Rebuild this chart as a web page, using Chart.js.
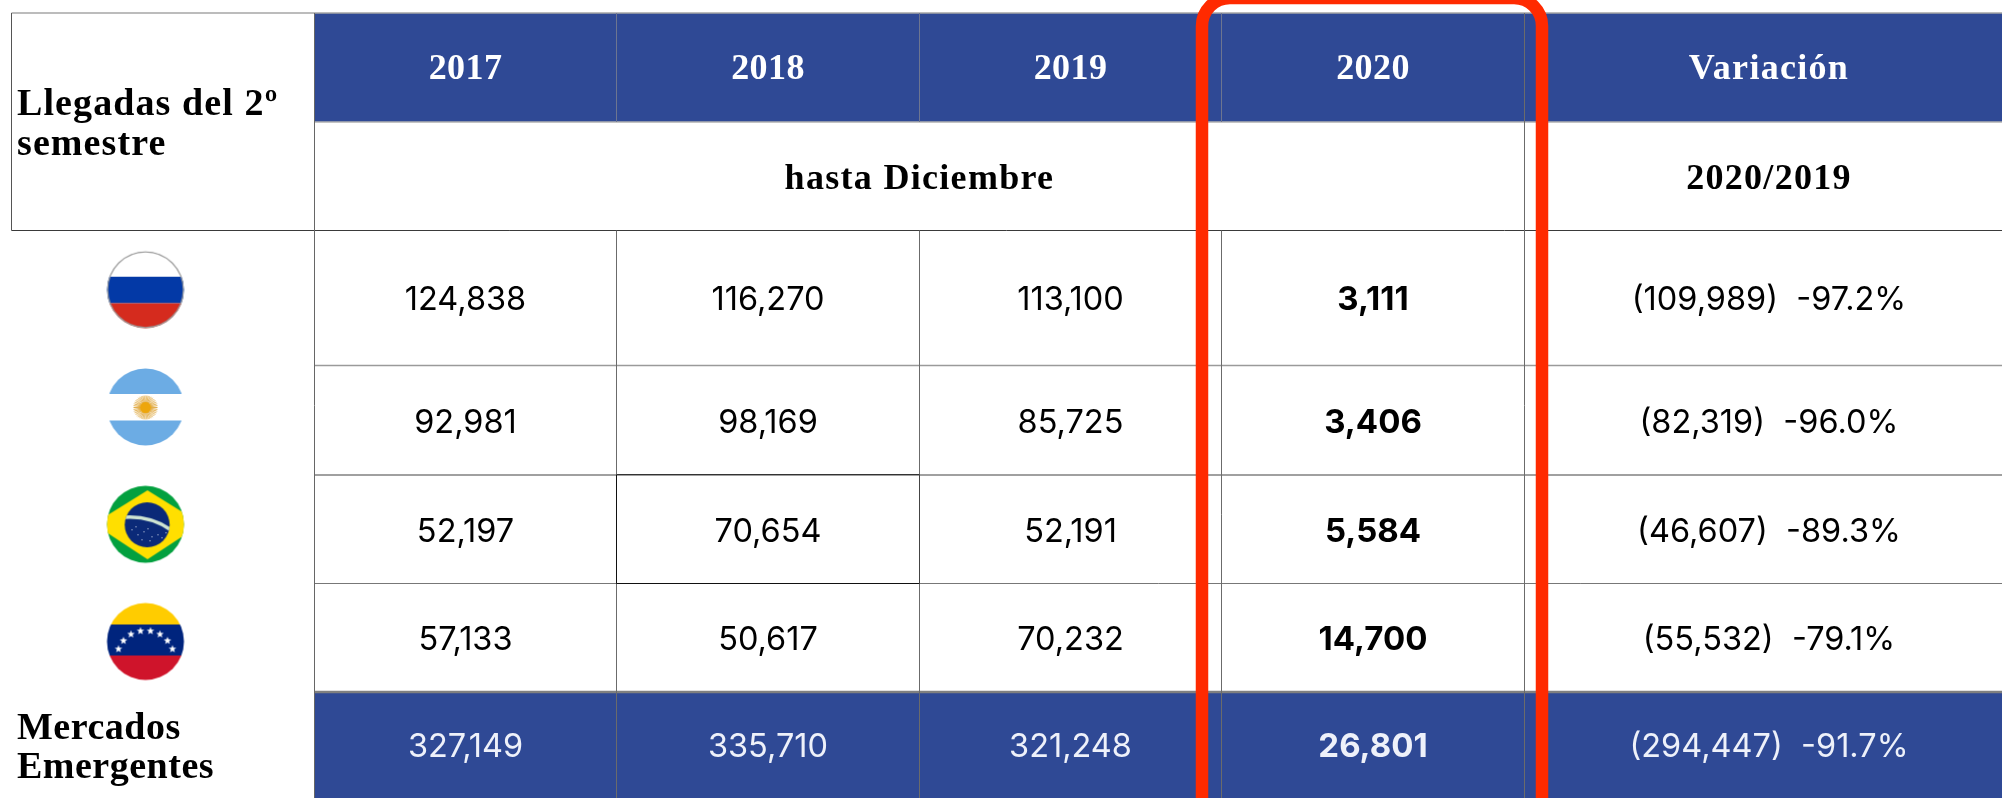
<!DOCTYPE html>
<html lang="es">
<head>
<meta charset="utf-8">
<title>Llegadas del 2º semestre</title>
<style>
  html, body { margin: 0; padding: 0; background: #fff; }
  #wrap { width: 2002px; height: 798px; overflow: hidden; }
</style>
<script src="https://cdn.jsdelivr.net/npm/chart.js@4/dist/chart.umd.js"></script>
</head>
<body>
<div id="wrap"><canvas id="chart" width="2002" height="798"></canvas></div>
<script>
// datos de la tabla
const years = ['2017', '2018', '2019', '2020'];
const countries = ['Rusia', 'Argentina', 'Brasil', 'Venezuela'];
const arrivals2017 = [124838, 92981, 52197, 57133];
const arrivals2018 = [116270, 98169, 70654, 50617];
const arrivals2019 = [113100, 85725, 52191, 70232];
const arrivals2020 = [3111, 3406, 5584, 14700];
const variationAbs = [-109989, -82319, -46607, -55532];
const variationPct = [-97.2, -96.0, -89.3, -79.1];
const totals = [327149, 335710, 321248, 26801];
const totalVariationAbs = -294447;
const totalVariationPct = -91.7;
const titleLines = ['Llegadas del 2º', 'semestre'];
const footerLines = ['Mercados', 'Emergentes'];
const variationTitle = 'Variación';
const periodLabel = 'hasta Diciembre';
const variationPeriod = '2020/2019';

// reticula: los ejes van en pixeles de la referencia
const colEdges = [11.5, 314.5, 616.5, 919.5, 1221.5, 1524.5, 2002];
const rowEdges = [13, 122, 230.5, 365.5, 475, 583.5, 692, 798];
const variationCenter = 1769;
const flagX = 145.5;
const flagY = [289.7, 407, 524.3, 641.5];
const textDrop = 2.5;

const BLUE = '#2f4995';
const RED = '#ff2a00';
const serif = '"Liberation Serif"';
const sans = 'Inter';

const mid = (a, b) => (a + b) / 2;
const num = n => n.toLocaleString('en-US');
const varText = (a, p) => `(${num(Math.abs(a))})  ${p.toFixed(1)}%`;

function flagCanvas(paint) {
  const c = document.createElement('canvas');
  c.width = 80; c.height = 80;
  const g = c.getContext('2d');
  g.beginPath(); g.arc(40, 40, 38.5, 0, Math.PI * 2); g.clip();
  paint(g);
  return c;
}
function bands(g, list) {
  list.forEach(([y0, y1, col]) => { g.fillStyle = col; g.fillRect(0, y0, 80, y1 - y0); });
}
function star(g, x, y, r) {
  g.beginPath();
  for (let i = 0; i < 10; i++) {
    const a = -Math.PI / 2 + i * Math.PI / 5, q = i % 2 ? r * 0.42 : r;
    g.lineTo(x + q * Math.cos(a), y + q * Math.sin(a));
  }
  g.closePath(); g.fill();
}
const flags = [
  flagCanvas(g => {
    bands(g, [[0, 27, '#fff'], [27, 53.5, '#0339a6'], [53.5, 80, '#d52b1e']]);
    g.strokeStyle = '#999'; g.lineWidth = 1.5;
    g.beginPath(); g.arc(40, 40, 38, 0, Math.PI * 2); g.stroke();
  }),
  flagCanvas(g => {
    bands(g, [[0, 27, '#6cace4'], [27, 53.5, '#fff'], [53.5, 80, '#6cace4']]);
    g.strokeStyle = '#dfa63a'; g.lineWidth = 0.9;
    for (let i = 0; i < 40; i++) {
      const a = i * Math.PI / 20;
      g.beginPath(); g.moveTo(40, 40.5);
      g.lineTo(40 + 12 * Math.cos(a), 40.5 + 12 * Math.sin(a)); g.stroke();
    }
    g.fillStyle = '#eda60c';
    g.beginPath(); g.arc(40, 40.5, 5.5, 0, Math.PI * 2); g.fill();
  }),
  flagCanvas(g => {
    bands(g, [[0, 80, '#03a03f']]);
    g.fillStyle = '#ffdf00';
    g.beginPath(); g.moveTo(42, 6); g.lineTo(96, 39.5); g.lineTo(42, 75); g.lineTo(-12, 39.5); g.closePath(); g.fill();
    g.fillStyle = '#0b2a78';
    g.beginPath(); g.arc(41.7, 40.5, 22.5, 0, Math.PI * 2); g.fill();
    g.save();
    g.beginPath(); g.arc(41.7, 40.5, 22.5, 0, Math.PI * 2); g.clip();
    g.strokeStyle = '#cfe5d2'; g.lineWidth = 3.5;
    g.beginPath(); g.moveTo(18, 33); g.quadraticCurveTo(45, 31, 66, 46); g.stroke();
    g.fillStyle = '#dfe6f5';
    [[26, 45], [32, 50], [38, 47], [42, 44], [46, 52], [52, 50], [56, 53], [44, 56], [36, 55], [60, 48], [30, 42]]
      .forEach(([x, y]) => g.fillRect(x, y, 1, 1));
    g.restore();
  }),
  flagCanvas(g => {
    bands(g, [[0, 23, '#ffcc00'], [23, 54, '#00247d'], [54, 80, '#cf142b']]);
    g.fillStyle = '#fff';
    [[13, 47.5], [18, 39.2], [25.5, 32.8], [35, 29.5], [45, 29.5], [54.5, 32.8], [62, 39.2], [67, 47.5]]
      .forEach(([x, y]) => star(g, x, y, 4));
  })
];

// relleno, lineas y recuadro, todo pasando por las escalas
const tablePlugin = {
  id: 'table',
  beforeDatasetsDraw(chart) {
    const { ctx, scales: { x, y } } = chart;
    const px = v => x.getPixelForValue(v), py = v => y.getPixelForValue(v);
    const right = colEdges[6];
    const rule = (x0, y0, x1, y1, col, w) => {
      ctx.strokeStyle = col; ctx.lineWidth = w;
      ctx.beginPath(); ctx.moveTo(px(x0), py(y0)); ctx.lineTo(px(x1), py(y1)); ctx.stroke();
    };
    ctx.save();
    ctx.fillStyle = BLUE;
    ctx.fillRect(px(colEdges[1]), py(rowEdges[0]), px(right) - px(colEdges[1]), py(rowEdges[1]) - py(rowEdges[0]));
    ctx.fillRect(px(colEdges[1]), py(rowEdges[6]), px(right) - px(colEdges[1]), py(rowEdges[7]) - py(rowEdges[6]));

    // horizontales
    rule(colEdges[0], rowEdges[0], right, rowEdges[0], '#a6a6a6', 1.5);
    rule(colEdges[1], rowEdges[1], right, rowEdges[1], '#b0b0b0', 1.5);
    rule(colEdges[0], rowEdges[2], right, rowEdges[2], '#3a3a3a', 1);
    rule(colEdges[1], rowEdges[3], right, rowEdges[3], '#9a9a9a', 1.5);
    rule(colEdges[1], rowEdges[4], right, rowEdges[4], '#a0a0a0', 2);
    rule(colEdges[1], rowEdges[5], right, rowEdges[5], '#777', 1);
    rule(colEdges[1], rowEdges[6], right, rowEdges[6], '#808080', 2.4);

    // verticales
    rule(colEdges[0], rowEdges[0], colEdges[0], rowEdges[2], '#555', 1);
    rule(colEdges[1], rowEdges[0], colEdges[1], rowEdges[7], '#666', 1);
    [2, 3, 4].forEach(i => {
      rule(colEdges[i], rowEdges[0], colEdges[i], rowEdges[1], '#6d7590', 1);
      rule(colEdges[i], rowEdges[2], colEdges[i], rowEdges[7], '#6b6b6b', 1);
    });
    rule(colEdges[5], rowEdges[0], colEdges[5], rowEdges[7], '#6b6b6b', 1);

    // celda Brasil 2018 con borde negro
    rule(colEdges[2], rowEdges[4] - 0.5, colEdges[3], rowEdges[4] - 0.5, '#333', 1);
    rule(colEdges[2], rowEdges[5], colEdges[3], rowEdges[5], '#111', 1);
    rule(colEdges[2], rowEdges[4], colEdges[2], rowEdges[5], '#111', 1);
    rule(colEdges[3], rowEdges[4], colEdges[3], rowEdges[5], '#444', 1);
    ctx.restore();
  },
  afterDatasetsDraw(chart) {
    const { ctx, scales: { x, y } } = chart;
    const px = v => x.getPixelForValue(v), py = v => y.getPixelForValue(v);
    const label = (s, xv, yv, font, col, align) => {
      ctx.font = font; ctx.fillStyle = col;
      ctx.textAlign = align || 'center';
      ctx.fillText(s, px(xv), py(yv));
    };
    ctx.save();
    ctx.textBaseline = 'middle';

    // valores: cada punto del dataset lleva su texto
    chart.data.datasets.forEach((ds, i) => {
      if (!ds.cellFont) return;
      chart.getDatasetMeta(i).data.forEach((el, j) => {
        ctx.font = ds.cellFont;
        ctx.fillStyle = ds.data[j].color;
        ctx.textAlign = 'center';
        ctx.fillText(ds.data[j].text, el.x, el.y + textDrop);
      });
    });

    // cabeceras
    const headFont = `bold 36px ${serif}`;
    const headY = mid(rowEdges[0], rowEdges[1]) + textDrop, subY = mid(rowEdges[1], rowEdges[2]) + 3.5;
    ctx.letterSpacing = '0.4px';
    years.forEach((yr, i) => label(yr, mid(colEdges[i + 1], colEdges[i + 2]), headY, headFont, '#fff'));
    ctx.letterSpacing = '1.3px';
    label(variationTitle, variationCenter, headY, headFont, '#fff');
    label(periodLabel, mid(colEdges[1], colEdges[5]), subY, headFont, '#000');
    label(variationPeriod, variationCenter, subY, headFont, '#000');

    ctx.textBaseline = 'alphabetic';
    const sideFont = `bold 38px ${serif}`;
    ctx.letterSpacing = '1.1px';
    titleLines.forEach((s, i) => label(s, 17, 115 + i * 40, sideFont, '#000', 'left'));
    ctx.letterSpacing = '0.5px';
    footerLines.forEach((s, i) => label(s, 17, 739 + i * 39, sideFont, '#000', 'left'));
    ctx.letterSpacing = '0px';
    ctx.restore();
  },
  afterDraw(chart) {
    const { ctx, scales: { x, y } } = chart;
    const l = x.getPixelForValue(1202), r = x.getPixelForValue(1542);
    ctx.save();
    ctx.strokeStyle = RED; ctx.lineWidth = 12.5;
    ctx.beginPath();
    ctx.roundRect(l, y.getPixelForValue(-2), r - l, y.getPixelForValue(860) - y.getPixelForValue(-2), 28);
    ctx.stroke();
    ctx.restore();
  }
};

const rowsY = [0, 1, 2, 3].map(i => mid(rowEdges[i + 2], rowEdges[i + 3]));
const totalY = mid(rowEdges[6], rowEdges[7]);

function cellSet(xv, texts, color, font) {
  return {
    type: 'scatter',
    cellFont: font,
    pointRadius: 0,
    data: texts.map((text, i) => ({ x: xv, y: rowsY[i], text, color }))
  };
}
function totalSet(xv, text, font) {
  return {
    type: 'scatter',
    cellFont: font,
    pointRadius: 0,
    data: [{ x: xv, y: totalY, text, color: '#eef1fa' }]
  };
}

const plainFont = `400 32.5px ${sans}`;
const boldFont = `700 33px ${sans}`;
const yearCols = [arrivals2017, arrivals2018, arrivals2019, arrivals2020];

const datasets = [
  {
    type: 'scatter',
    label: 'flags',
    data: countries.map((c, i) => ({ x: flagX, y: flagY[i], country: c })),
    pointStyle: flags,
    pointRadius: 38.5
  },
  ...yearCols.map((vals, i) => cellSet(
    mid(colEdges[i + 1], colEdges[i + 2]), vals.map(num), '#000', i === 3 ? boldFont : plainFont)),
  cellSet(variationCenter, variationAbs.map((a, i) => varText(a, variationPct[i])), '#000', plainFont),
  ...totals.map((t, i) => totalSet(mid(colEdges[i + 1], colEdges[i + 2]), num(t), i === 3 ? boldFont : plainFont)),
  totalSet(variationCenter, varText(totalVariationAbs, totalVariationPct), plainFont)
];

new Chart(document.getElementById('chart'), {
  data: { datasets },
  options: {
    responsive: false,
    animation: false,
    layout: { padding: 0, autoPadding: false },
    plugins: { legend: { display: false }, tooltip: { enabled: false } },
    scales: {
      x: { type: 'linear', min: 0, max: 2002, display: false },
      y: { type: 'linear', min: 0, max: 798, reverse: true, display: false }
    }
  },
  plugins: [tablePlugin]
});
</script>
</body>
</html>
